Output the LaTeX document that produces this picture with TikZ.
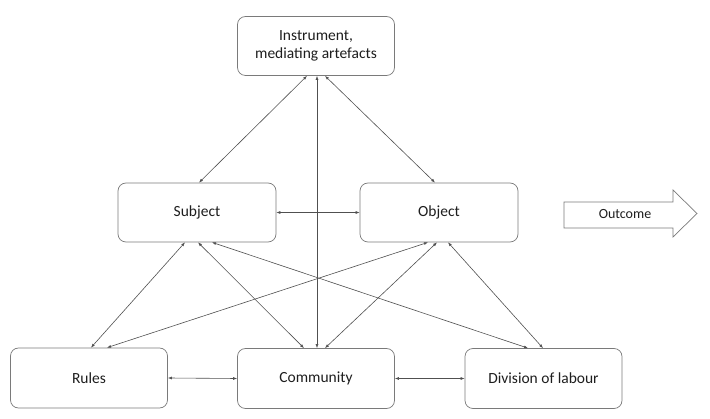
\documentclass[tikz,border=0pt]{standalone}
\usepackage{fontspec}
\setmainfont{Carlito}
\usetikzlibrary{arrows.meta}
\definecolor{boxline}{HTML}{7A7A7A}
\definecolor{arrline}{HTML}{505050}
\definecolor{txt}{HTML}{1E1E1E}
\tikzset{
  box/.style={draw=boxline, line width=0.7pt, rounded corners=8pt, fill=white,
    minimum width=157pt, minimum height=59pt, inner sep=2pt, align=center,
    font=\fontsize{15.5}{18.5}\selectfont, text=txt},
  link/.style={draw=arrline, line width=0.6pt, {Latex[length=4pt,width=3pt]}-{Latex[length=4pt,width=3pt]}},
}
\begin{document}
\begin{tikzpicture}[x=1pt,y=-1pt]
\useasboundingbox (0,0) rectangle (710,419);
\node[box] (inst) at (316,46) {Instrument,\\mediating artefacts};
\node[box,minimum width=158pt] (subj) at (197,212.5) {Subject};
\node[box,minimum width=158pt] (obj) at (439,212.5) {Object};
\node[box,minimum height=60pt] (rules) at (89,378) {Rules};
\node[box,minimum height=60pt] (comm) at (316,378.5) {Community};
\node[box,minimum height=60pt] (div) at (543.5,378.5) {Division of labour};

% outcome arrow
\draw[boxline, line width=0.7pt, fill=white] (564,202) -- (673,202) -- (673,190) -- (697,213.5) -- (673,237) -- (673,228) -- (564,228) -- cycle;
\node[font=\fontsize{14}{16}\selectfont, text=txt] (out) at (625,214) {Outcome};

% connectors
\draw[link] ([xshift=-9pt]inst.south) -- ([xshift=2pt]subj.north);
\draw[link] ([xshift=9pt]inst.south) -- ([xshift=-4pt]obj.north);
\draw[link] ([xshift=1pt]inst.south) -- ([xshift=1pt]comm.north);
\draw[link] (subj.east) -- (obj.west);
\draw[link] ([xshift=-12pt]subj.south) -- ([xshift=2pt]rules.north);
\draw[link] ([xshift=1pt]subj.south) -- ([xshift=-12pt]comm.north);
\draw[link] ([xshift=15pt]subj.south) -- ([xshift=-15.5pt]div.north);
\draw[link] ([xshift=-11pt]obj.south) -- ([xshift=18pt]rules.north);
\draw[link] ([xshift=-2pt]obj.south) -- ([xshift=9pt]comm.north);
\draw[link] ([xshift=9pt]obj.south) -- ([xshift=-0.5pt]div.north);
\draw[link] (rules.east) -- (comm.west);
\draw[link] (comm.east) -- (div.west);
\end{tikzpicture}
\end{document}
